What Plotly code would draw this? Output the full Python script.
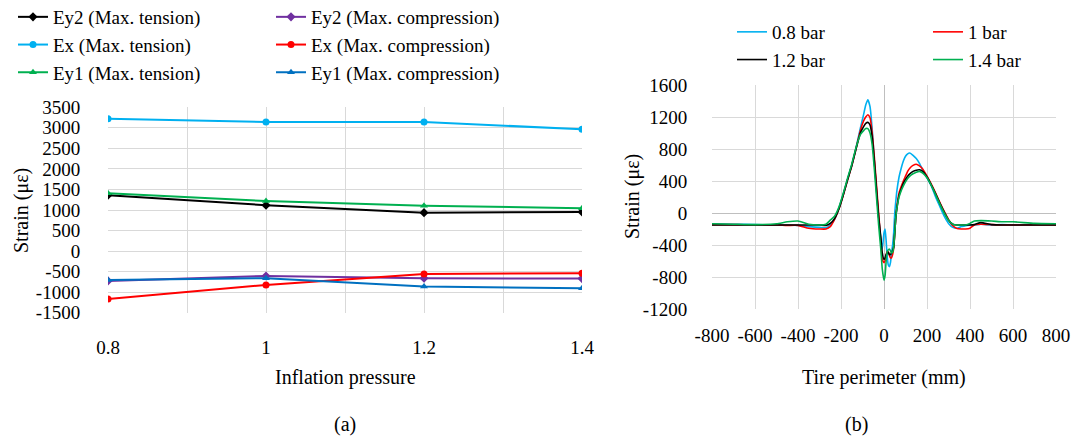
import plotly.graph_objects as go

FONT = "Liberation Serif"

# ---------------- (a) strain vs inflation pressure ----------------
pressure = [0.8, 1.0, 1.2, 1.4]
ey2_tension = [1359, 1116, 936, 953]
ey2_compression = [-726, -605, -661, -670]
ex_tension = [3223, 3142, 3142, 2965]
ex_compression = [-1164, -824, -556, -540]
ey1_tension = [1407, 1220, 1106, 1042]
ey1_compression = [-702, -661, -865, -904]

a_yticks = [3500, 3000, 2500, 2000, 1500, 1000, 500, 0, -500, -1000, -1500]
a_yticktext = ["3500", "3000", "2500", "2000", "1500", "1000", "500", "0",
               "-500", "-1000", "-1500"]
a_xticks = [0.8, 1.0, 1.2, 1.4]
a_xticktext = ["0.8", "1", "1.2", "1.4"]

# ---------------- (b) strain along tire perimeter ----------------
perimeter = [-800, -700, -600, -500, -450, -400, -350, -300, -270, -250, -230,
             -210, -190, -170, -150, -130, -110, -95, -85, -75, -65, -55, -45,
             -35, -25, -15, -8, 0, 5, 10, 15, 20, 25, 30, 35, 40, 45, 50, 55,
             60, 70, 80, 90, 100, 110, 120, 135, 150, 165, 180, 200, 220, 240,
             260, 280, 300, 320, 340, 360, 380, 400, 420, 450, 500, 550, 600,
             700, 800]
strain_08 = [-135, -140, -145, -150, -150, -155, -170, -180, -185, -150, -80,
             60, 230, 420, 600, 820, 1060, 1230, 1350, 1415, 1330, 1050, 650,
             280, -50, -320, -450, -250, -200, -350, -550, -650, -670, -620,
             -500, -400, -250, 0, 150, 280, 450, 560, 650, 710, 740, 750, 720,
             680, 620, 540, 440, 340, 200, 80, -40, -130, -180, -190, -170,
             -160, -150, -150, -140, -150, -145, -150, -145, -145]
strain_10 = [-145, -145, -150, -150, -155, -155, -190, -200, -200, -170, -80,
             50, 220, 410, 590, 810, 1030, 1150, 1200, 1228, 1190, 1000, 700,
             350, 0, -350, -580, -620, -600, -520, -480, -490, -530, -560,
             -560, -520, -440, -250, -50, 80, 250, 330, 400, 460, 520, 560,
             595, 610, 590, 550, 460, 360, 250, 130, 20, -80, -160, -195, -200,
             -200, -190, -150, -140, -145, -150, -150, -150, -150]
strain_12 = [-150, -150, -150, -150, -150, -150, -150, -150, -155, -130, -70,
             50, 220, 410, 590, 800, 1000, 1080, 1120, 1133, 1100, 950, 650,
             300, -50, -300, -500, -580, -560, -520, -500, -490, -520, -520,
             -500, -470, -430, -250, -50, 60, 220, 300, 370, 420, 460, 490,
             520, 535, 540, 520, 450, 350, 240, 120, 10, -90, -140, -150, -150,
             -150, -150, -145, -120, -145, -150, -150, -150, -150]
strain_14 = [-135, -140, -145, -135, -110, -100, -140, -150, -140, -90, -40,
             70, 240, 430, 610, 820, 980, 1030, 1055, 1055, 1000, 850, 550,
             200, -150, -450, -700, -840, -780, -600, -480, -460, -450, -470,
             -500, -490, -420, -250, -50, 60, 200, 280, 340, 390, 430, 460,
             490, 510, 520, 500, 440, 345, 230, 110, 0, -90, -140, -150, -150,
             -150, -130, -100, -95, -100, -110, -110, -130, -135]

b_xticks = [-800, -600, -400, -200, 0, 200, 400, 600, 800]
b_xticktext = ["-800", "-600", "-400", "-200", "0", "200", "400", "600", "800"]
b_yticks = [1600, 1200, 800, 400, 0, -400, -800, -1200]
b_yticktext = ["1600", "1200", "800", "400", "0", "-400", "-800", "-1200"]

GRID = "#D9D9D9"
fig = go.Figure()

series_a = [
    ("Ey2 (Max. tension)", ey2_tension, "#000000", "diamond", "legend"),
    ("Ey2 (Max. compression)", ey2_compression, "#7030A0", "diamond", "legend2"),
    ("Ex (Max. tension)", ex_tension, "#00B0F0", "circle", "legend"),
    ("Ex (Max. compression)", ex_compression, "#FF0000", "circle", "legend2"),
    ("Ey1 (Max. tension)", ey1_tension, "#00B050", "triangle-up", "legend"),
    ("Ey1 (Max. compression)", ey1_compression, "#0070C0", "triangle-up", "legend2"),
]
for name, vals, col, sym, leg in series_a:
    fig.add_trace(go.Scatter(
        x=pressure, y=vals, name=name, mode="lines+markers",
        line=dict(color=col, width=2), marker=dict(color=col, symbol=sym, size=7),
        xaxis="x", yaxis="y", legend=leg))

series_b = [
    ("0.8 bar", strain_08, "#00B0F0", "legend3"),
    ("1 bar", strain_10, "#FF0000", "legend4"),
    ("1.2 bar", strain_12, "#000000", "legend3"),
    ("1.4 bar", strain_14, "#00B050", "legend4"),
]
for name, vals, col, leg in series_b:
    fig.add_trace(go.Scatter(
        x=perimeter, y=vals, name=name, mode="lines",
        line=dict(color=col, width=1.6, shape="spline", smoothing=0.5),
        xaxis="x2", yaxis="y2", legend=leg))

W, H = 1075, 439
def px_x(p):
    return p / W
def px_y(p):
    return 1 - p / H

tick_font = dict(family=FONT, size=19, color="#000000")
def legend_style(size, x, y):
    return dict(font=dict(family=FONT, size=size, color="#000000"),
                bgcolor="rgba(0,0,0,0)", xanchor="left", yanchor="top",
                tracegroupgap=0, itemwidth=30, x=x, y=y)

NOTICK = "rgba(0,0,0,0)"
fig.update_layout(
    width=W, height=H, margin=dict(l=0, r=0, t=0, b=0, autoexpand=False),
    paper_bgcolor="white", plot_bgcolor="white",
    font=dict(family=FONT, size=20, color="#000000"),
    xaxis=dict(domain=[px_x(108), px_x(582)], range=[0.8, 1.4],
               tickvals=a_xticks, ticktext=a_xticktext, tickfont=tick_font,
               showgrid=True, gridcolor=GRID, gridwidth=1, zeroline=False,
               minor=dict(dtick=0.1, showgrid=True, gridcolor=GRID, gridwidth=1),
               showline=False, ticks="outside", ticklen=17, tickcolor=NOTICK,
               automargin=False, anchor="y"),
    yaxis=dict(domain=[px_y(312.7), px_y(107.3)], range=[-1500, 3500],
               tickvals=a_yticks, ticktext=a_yticktext, tickfont=tick_font,
               showgrid=True, gridcolor=GRID, gridwidth=1, zeroline=False,
               showline=False, ticks="outside", ticklen=23, tickcolor=NOTICK,
               automargin=False, anchor="x"),
    xaxis2=dict(domain=[px_x(712), px_x(1056)], range=[-800, 800],
                tickvals=b_xticks, ticktext=b_xticktext, tickfont=tick_font,
                showgrid=True, gridcolor=GRID, gridwidth=1,
                zeroline=True, zerolinecolor="#BFBFBF", zerolinewidth=1,
                showline=False, ticks="outside", ticklen=9, tickcolor=NOTICK,
                automargin=False, anchor="y2"),
    yaxis2=dict(domain=[px_y(309), px_y(85)], range=[-1200, 1600],
                tickvals=b_yticks, ticktext=b_yticktext, tickfont=tick_font,
                showgrid=True, gridcolor=GRID, gridwidth=1,
                zeroline=True, zerolinecolor="#BFBFBF", zerolinewidth=1,
                showline=False, ticks="outside", ticklen=20, tickcolor=NOTICK,
                automargin=False, anchor="x2"),
    legend=legend_style(19, px_x(13), px_y(-2)),
    legend2=legend_style(19, px_x(271), px_y(-2)),
    legend3=legend_style(19, px_x(732), px_y(13)),
    legend4=legend_style(19, px_x(928), px_y(13)),
    showlegend=True,
)

annotations = [
    dict(text="Strain (με)", x=px_x(22), y=px_y(210), textangle=-90),
    dict(text="Inflation pressure", x=px_x(345), y=px_y(377)),
    dict(text="(a)", x=px_x(345), y=px_y(424)),
    dict(text="Strain (με)", x=px_x(632), y=px_y(197), textangle=-90),
    dict(text="Tire perimeter (mm)", x=px_x(884), y=px_y(377)),
    dict(text="(b)", x=px_x(856), y=px_y(424)),
]
for a in annotations:
    fig.add_annotation(xref="paper", yref="paper", showarrow=False,
                       xanchor="center", yanchor="middle",
                       font=dict(family=FONT, size=20, color="#000000"), **a)

fig.write_html("out.html")
